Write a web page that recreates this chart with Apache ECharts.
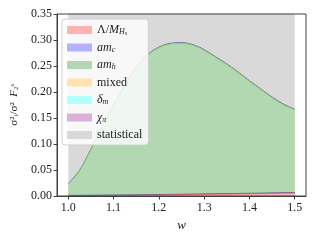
<!DOCTYPE html>
<html><head><meta charset="utf-8">
<script src="https://cdn.jsdelivr.net/npm/echarts@6/dist/echarts.min.js"></script>
<style>html,body{margin:0;padding:0;background:#fff}#c{width:320px;height:240px}</style>
</head><body><div id="c"></div>
<script>
var w = [1.000,1.025,1.050,1.075,1.100,1.125,1.150,1.175,1.200,1.225,1.250,1.275,1.300,1.325,1.350,1.375,1.400,1.425,1.450,1.475,1.500];
var lamM  = [0.0003,0.0005,0.0007,0.0009,0.0011,0.0013,0.0015,0.0018,0.0020,0.0023,0.0026,0.0029,0.0032,0.0035,0.0038,0.0041,0.0044,0.0047,0.0051,0.0055,0.0058];
var amc   = [0.0008,0.0008,0.0008,0.0008,0.0008,0.0008,0.0008,0.0008,0.0008,0.0008,0.0008,0.0008,0.0008,0.0008,0.0008,0.0008,0.0008,0.0008,0.0008,0.0008,0.0008];
var amh   = [0.0214,0.047,0.087,0.130,0.172,0.209,0.244,0.268,0.282,0.289,0.290,0.286,0.276,0.262,0.248,0.232,0.215,0.199,0.183,0.169,0.159];
var mixed = [0.0004,0.0004,0.0004,0.0004,0.0004,0.0004,0.0004,0.0004,0.0004,0.0004,0.0004,0.0004,0.0004,0.0004,0.0004,0.0004,0.0004,0.0004,0.0004,0.0004,0.0004];
var deltaM= [0.0003,0.0003,0.0003,0.0003,0.0003,0.0003,0.0003,0.0003,0.0003,0.0003,0.0003,0.0003,0.0003,0.0003,0.0003,0.0003,0.0003,0.0003,0.0003,0.0003,0.0003];
var chiPi = [0.0008,0.0008,0.0008,0.0008,0.0008,0.0008,0.0008,0.0008,0.0008,0.0008,0.0008,0.0008,0.0008,0.0008,0.0008,0.0008,0.0008,0.0008,0.0008,0.0008,0.0008];
var stat  = [0.5,0.5,0.5,0.5,0.5,0.5,0.5,0.5,0.5,0.5,0.5,0.5,0.5,0.5,0.5,0.5,0.5,0.5,0.5,0.5,0.5];
var names = ['lam','amc','amh','mixed','delta','chi','stat'];
var xTicks = [1.0,1.1,1.2,1.3,1.4,1.5];

var serif = 'Liberation Serif';
// opaque equivalents of alpha 0.3 fills on white
var fills = ['#ffb2b2','#b2b2ff','#b2d8b2','#ffe4b2','#b2ffff','#d8b2d8','#d9d9d9'];
var edges = ['rgba(220,60,60,0.9)','rgba(40,40,150,0.9)','rgba(80,190,80,0.7)','rgba(255,165,0,0.6)','rgba(0,200,200,0.6)','rgba(100,90,170,0.95)','rgba(120,120,120,0.6)'];
var vals = [lamM,amc,amh,mixed,deltaM,chiPi,stat];
// cumulative sums (stack)
var cum = [];
vals.forEach(function(arr,i){
  cum.push(arr.map(function(v,j){return (i?cum[i-1][j]:0)+v;}));
});
var series = [];
for (var i = names.length-1; i >= 0; i--) {
  (function(i){
    series.push({name:names[i],type:'line',smooth:0.35,showSymbol:false,silent:true,clip:true,
      z:2+(names.length-i),
      data:w.map(function(x,j){return [x,cum[i][j]];}),
      lineStyle:{width:i===5?1:0.7,color:edges[i]},
      itemStyle:{color:fills[i]},
      areaStyle:{color:fills[i],opacity:1,origin:'start'}});
  })(i);
}
var labels = {
  lam:'{n|Λ/}{i|M}{s|H}{ss|s}',
  amc:'{i|am}{s|c}',
  amh:'{i|am}{s|h}',
  mixed:'{n|mixed}',
  delta:'{i|δ}{s|m}',
  chi:'{i|χ}{s|π}',
  stat:'{n|statistical}'
};
var chart = echarts.init(document.getElementById('c'),null,{renderer:'canvas'});
chart.setOption({
  animation:false,
  grid:{left:57,right:14,top:14,bottom:44,show:true,borderColor:'#404040',borderWidth:1,backgroundColor:'transparent',z:30},
  xAxis:{type:'value',min:0.975,max:1.525,
    axisLine:{show:true,lineStyle:{color:'#404040'}},
    axisTick:{show:true,length:3.5,lineStyle:{color:'#404040'},customValues:xTicks},
    axisLabel:{fontFamily:serif,fontSize:12,color:'#222',margin:6,customValues:xTicks,formatter:function(v){return v.toFixed(1);}},
    splitLine:{show:false},
    name:'w',nameLocation:'middle',nameGap:22,nameTextStyle:{fontFamily:serif,fontStyle:'italic',fontSize:13,color:'#222'}},
  yAxis:{type:'value',min:0,max:0.35,interval:0.05,
    axisLine:{show:true,lineStyle:{color:'#404040'}},
    axisTick:{show:true,length:3.5,lineStyle:{color:'#404040'}},
    axisLabel:{fontFamily:serif,fontSize:12,color:'#222',margin:5,formatter:function(v){return v.toFixed(2);}},
    splitLine:{show:false},
    name:'{n|σ²}{s|i}{n|/σ²  }{i|F}{s|2}{n|ˢ}',nameLocation:'middle',nameGap:37,nameRotate:90,
    nameTextStyle:{fontFamily:serif,fontSize:11,color:'#222',rich:{
      n:{fontFamily:serif,fontSize:11,color:'#222'},
      i:{fontFamily:serif,fontStyle:'italic',fontSize:11,color:'#222'},
      s:{fontFamily:serif,fontStyle:'italic',fontSize:7,color:'#222',padding:[4,0,0,0]}}}},
  legend:{show:true,orient:'vertical',left:62,top:19,z:50,
    data:names.map(function(n){return {name:n,icon:'rect'};}),
    itemWidth:25,itemHeight:8,itemGap:3.5,
    backgroundColor:'rgba(255,255,255,0.8)',borderColor:'#d0d0d0',borderWidth:1,borderRadius:3,
    padding:[4,6,3,5],
    formatter:function(n){return labels[n];},
    textStyle:{fontFamily:serif,fontSize:12,color:'#222',lineHeight:14,
      rich:{
        n:{fontFamily:serif,fontSize:12,color:'#222',lineHeight:14},
        i:{fontFamily:serif,fontStyle:'italic',fontSize:12,color:'#222',lineHeight:14},
        s:{fontFamily:serif,fontStyle:'italic',fontSize:8,color:'#222',lineHeight:14,padding:[4,0,0,0]},
        ss:{fontFamily:serif,fontStyle:'italic',fontSize:6,color:'#222',lineHeight:14,padding:[7,0,0,0]}
      }}},
  series:series
});
</script></body></html>
